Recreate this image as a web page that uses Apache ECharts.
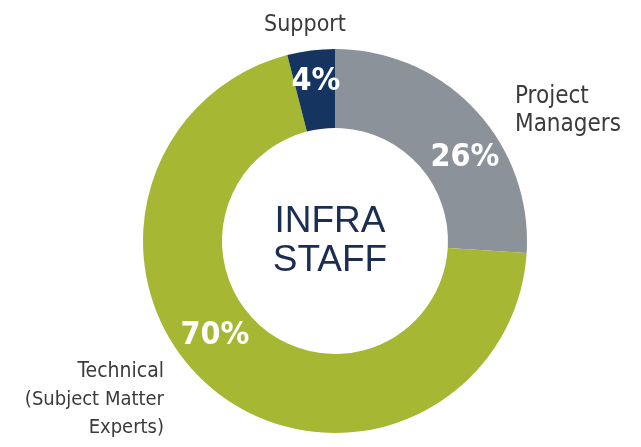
<!DOCTYPE html>
<html>
<head>
<meta charset="utf-8">
<script src="https://cdn.jsdelivr.net/npm/echarts@6/dist/echarts.min.js"></script>
<style>
  html, body { margin: 0; padding: 0; background: #fff; }
  #chart { width: 641px; height: 447px; }
</style>
</head>
<body>
<div id="chart"></div>
<script>
// staff split, clockwise from 12 o'clock
const categories = ["Project\nManagers", "Technical\n(Subject Matter\nExperts)", "Support"];
const shares = [26, 70, 4];
const centerTitle = ["INFRA", "STAFF"];

const colors = ["#8b9299", "#a6b734", "#15345f"];
const narrow = "'DejaVu Sans', sans-serif";

// where the labels sit on the picture
const pctPos = [[465, 158], [215, 336], [316, 82]];
const namePos = [
  { x: 515, y: 111, align: "left", size: 24 },
  { x: 164, y: 400, align: "right", size: 21 },
  { x: 305, y: 25, align: "center", size: 23 }
];

const chart = echarts.init(document.getElementById("chart"));

const pieData = categories.map((name, i) => ({
  name: name,
  value: shares[i],
  itemStyle: { color: colors[i] }
}));

const nameRich = {};
namePos.forEach((p, i) => {
  nameRich["n" + i] = { fontSize: p.size, lineHeight: 28, align: p.align };
});
nameRich.sub = { fontSize: 20, lineHeight: 28, align: "right" };

chart.setOption({
  animation: false,
  series: [
    {
      type: "pie",
      radius: [113, 192],
      center: [335, 241],
      startAngle: 90,
      clockwise: true,
      silent: true,
      data: pieData,
      label: {
        show: true,
        position: "inside",
        formatter: "{d}%",
        color: "#fff",
        fontFamily: narrow,
        fontWeight: "bold condensed",
        fontSize: 32
      },
      labelLine: { show: false },
      labelLayout: (p) => ({
        x: pctPos[p.dataIndex][0],
        y: pctPos[p.dataIndex][1],
        align: "center",
        verticalAlign: "middle"
      })
    },
    {
      // second pass only for the category names outside the ring
      type: "pie",
      radius: [113, 192],
      center: [335, 241],
      startAngle: 90,
      silent: true,
      data: pieData.map((d) => ({ name: d.name, value: d.value, itemStyle: { color: "transparent" } })),
      label: {
        show: true,
        position: "outside",
        formatter: (p) => p.name.split("\n")
          .map((line, k) => (p.dataIndex === 1 && k > 0 ? "{sub|" : "{n" + p.dataIndex + "|") + line + "}")
          .join("\n"),
        color: "#3b3b3b",
        fontFamily: narrow,
        fontWeight: "normal condensed",
        fontSize: 21,
        lineHeight: 28,
        rich: nameRich
      },
      labelLine: { show: false },
      labelLayout: (p) => ({
        x: namePos[p.dataIndex].x,
        y: namePos[p.dataIndex].y,
        align: namePos[p.dataIndex].align,
        verticalAlign: "middle"
      })
    }
  ],
  graphic: [
    {
      type: "text",
      x: 330,
      y: 241,
      style: {
        text: centerTitle.join("\n"),
        align: "center",
        verticalAlign: "middle",
        fill: "#1c2d52",
        font: "37px 'Liberation Sans', Arial, sans-serif",
        lineHeight: 39
      }
    }
  ]
});
</script>
</body>
</html>
